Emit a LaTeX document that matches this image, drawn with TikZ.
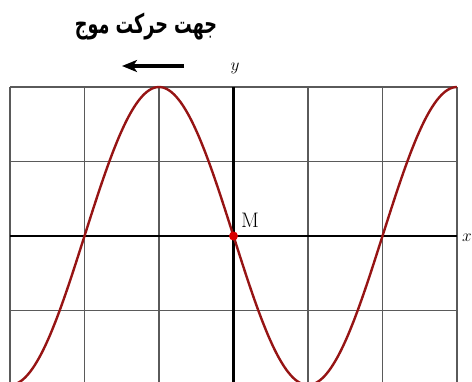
\documentclass[tikz,border=0pt]{standalone}
\usepackage{fontspec}
\usetikzlibrary{arrows.meta}
\TeXXeTstate=1
\newfontfamily\arabicfont[Script=Arabic]{DejaVu Sans}
\definecolor{wavered}{RGB}{150,20,20}
\definecolor{gridgray}{RGB}{90,90,90}
\tikzset{
  gridline/.style={draw=gridgray, line width=1.5pt},
  axisline/.style={draw=black, line width=2.8pt},
  wave/.style={draw=wavered, line width=2.4pt},
  lbl/.style={inner sep=0pt, font=\fontsize{19}{19}\selectfont}
}
\begin{document}
\begin{tikzpicture}[x=1pt,y=-1pt]
\useasboundingbox (0,0) rectangle (472,381);
% grid
\foreach \gx in {10,84.5,159,308,382.5,457} \draw[gridline] (\gx,87) -- (\gx,390);
\foreach \gy in {87,161.5,310.5} \draw[gridline] (10,\gy) -- (457,\gy);
% axes
\coordinate (xs) at (10,236);
\coordinate (xe) at (457,236);
\coordinate (ys) at (233.5,87);
\coordinate (ye) at (233.5,390);
\draw[axisline] (xs) -- (xe);
\draw[axisline] (ys) -- (ye);
\node[lbl, anchor=west] (xl) at (462,238) {$x$};
\node[lbl] (yl) at (235,68) {$y$};
% wave
\draw[wave] plot[domain=10:457, samples=200, smooth] (\x, {236 + 149*cos(1.208054*(\x-10))});
% point M
\node[circle, fill=red!85!black, inner sep=0pt, minimum size=9pt] (m) at (233.5,236) {};
\node[anchor=south west, inner sep=0pt, font=\fontsize{21}{21}\selectfont] (ml) at (241,228) {M};
% arrow
\coordinate (as) at (184,66);
\coordinate (ae) at (122,66);
\draw[line width=4pt, -{Stealth[length=15pt, width=12pt, inset=4pt]}] (as) -- (ae);
% title
\node[xscale=0.88, yscale=1.35, font=\arabicfont\bfseries\fontsize{20}{20}\selectfont] (title) at (146,27) {\beginR جهت حرکت موج\endR};
\end{tikzpicture}
\end{document}
